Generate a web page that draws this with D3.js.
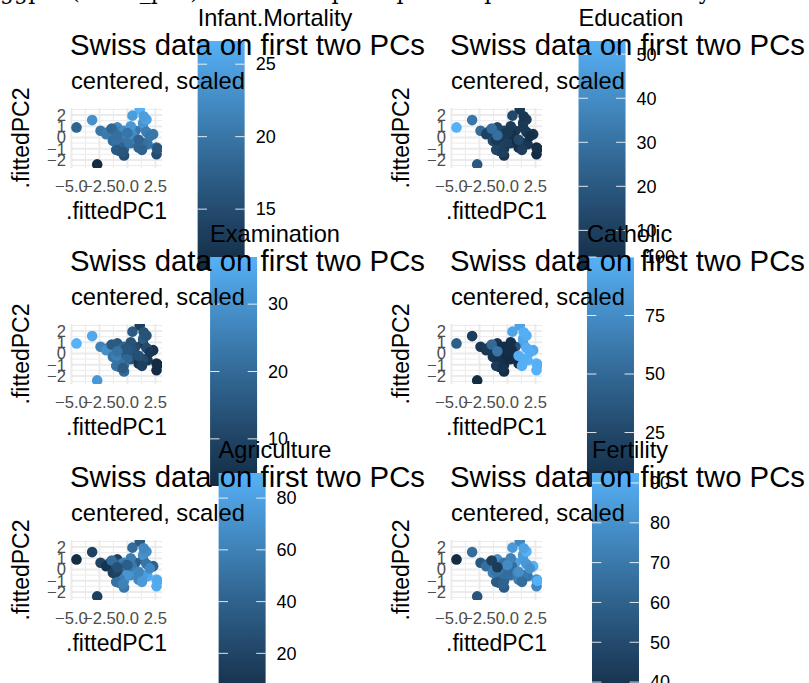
<!DOCTYPE html>
<html lang="en">
<head>
<meta charset="UTF-8">
<title>Swiss data on first two PCs</title>
<script src="https://d3js.org/d3.v7.min.js"></script>
<style>
  body { margin: 0; background: #fff; }
  text { font-family: "Liberation Sans", Arial, Helvetica, sans-serif; }
</style>
</head>
<body>
<div id="chart-area"></div>
<script>
// swiss provinces, their PC scores and the six variables
const provinces = ['Courtelary','Delemont','Franches-Mnt','Moutier','Neuveville','Porrentruy','Broye','Glane',
  'Gruyere','Sarine','Veveyse','Aigle','Aubonne','Avenches','Cossonay','Echallens','Grandson','Lausanne',
  'La Vallee','Lavaux','Morges','Moudon','Nyone','Orbe','Oron','Payerne','Paysd\'enhaut','Rolle','Vevey',
  'Yverdon','Conthey','Entremont','Herens','Martigwy','Monthey','St Maurice','Sierre','Sion','Boudry',
  'La Chauxdfnd','Le Locle','Neuchatel','Val de Ruz','ValdeTravers','V. De Geneve','Rive Droite','Rive Gauche'];

const pc1 = [-0.9, 1.4, 2.3, 0.7, -0.6, 1.1, 1.4, 1.7, 1.7, 0.45, 1.45, -0.7, 0.3, -0.3, -0.3, 0.5, -0.3, -2.4,
  -2.7, 0.0, -0.7, 0.4, -1.0, -0.3, 0.9, 0.3, 1.0, -0.4, -1.7, -0.2, 2.6, 1.8, 2.6, 1.4, 2.0, 1.3, 2.7, 1.0,
  -1.1, -1.9, -1.3, -3.15, 0.0, -1.0, -4.55, -1.4, -0.9];
const pc2 = [0.9, 0.9, 0.3, 0.6, 0.5, 2.5, 1.3, 1.6, 0.5, 1.95, 1.9, -1.2, -0.5, 0.6, -1.0, -0.1, 0.0, 0.6,
  -2.4, -0.4, -0.8, 0.3, -1.1, -1.6, -0.3, 1.0, -0.9, -1.3, 0.5, 0.4, -1.5, -0.6, -0.9, -0.5, 0.1, -1.1, -1.0, -0.2,
  0.1, 0.3, -0.3, 1.55, 0.4, -0.2, 0.9, 0.8, 0.2];

const fertility = [80.2, 83.1, 92.5, 85.8, 76.9, 76.1, 83.8, 92.4, 82.4, 82.9, 87.1, 64.1, 66.9, 68.9, 61.7, 68.3,
  71.7, 55.7, 54.3, 65.1, 65.5, 65.0, 56.6, 57.4, 72.5, 74.2, 72.0, 60.5, 58.3, 65.4, 75.5, 69.3, 77.3, 70.5, 79.4,
  65.0, 92.2, 79.3, 70.4, 65.7, 72.7, 64.4, 77.6, 67.6, 35.0, 44.7, 42.8];
const agriculture = [17.0, 45.1, 39.7, 36.5, 43.5, 35.3, 70.2, 67.8, 53.3, 45.2, 64.5, 62.0, 67.5, 60.7, 69.3, 72.6,
  34.0, 19.4, 15.2, 73.0, 59.8, 55.1, 50.9, 54.1, 71.2, 58.1, 63.5, 60.8, 26.8, 49.5, 85.9, 84.9, 89.7, 78.2, 64.9,
  75.9, 84.6, 63.1, 38.4, 7.7, 16.7, 17.6, 37.6, 18.7, 1.2, 46.6, 27.7];
const examination = [15, 6, 5, 12, 17, 9, 16, 14, 12, 16, 14, 21, 14, 19, 22, 18, 17, 26, 31, 19, 22, 14, 22, 20, 12,
  14, 6, 16, 25, 15, 3, 7, 5, 12, 7, 9, 3, 13, 26, 29, 22, 35, 15, 25, 37, 16, 22];
const education = [12, 9, 5, 7, 15, 7, 7, 8, 7, 13, 6, 12, 7, 12, 5, 2, 8, 28, 20, 9, 10, 3, 12, 6, 1, 8, 3, 10, 19, 8,
  2, 6, 2, 6, 3, 9, 3, 13, 12, 11, 13, 32, 7, 7, 53, 29, 29];
const catholic = [9.96, 84.84, 93.40, 33.77, 5.16, 90.57, 92.85, 97.16, 97.67, 91.38, 98.61, 8.52, 2.27, 4.43, 2.82,
  24.20, 3.30, 12.11, 2.15, 2.84, 5.23, 4.52, 15.14, 4.20, 2.40, 5.23, 2.56, 7.72, 18.46, 6.10, 99.71, 99.68, 100.00,
  98.96, 98.22, 99.06, 99.46, 96.83, 5.62, 13.79, 11.22, 16.92, 4.97, 8.65, 42.34, 50.43, 58.33];
const infantMortality = [22.2, 22.2, 20.2, 20.3, 20.6, 26.6, 23.6, 24.9, 21.0, 24.4, 24.5, 16.5, 19.1, 22.7, 18.7, 21.2,
  20.0, 20.2, 10.8, 20.0, 18.0, 22.4, 16.7, 15.3, 21.0, 23.8, 18.0, 16.3, 20.9, 22.5, 15.1, 19.8, 18.3, 19.4, 20.2,
  17.8, 16.3, 18.1, 20.3, 20.5, 18.9, 23.0, 20.0, 19.5, 18.0, 18.2, 19.3];

// one panel per variable, in the order they were laid out
const panelVars = ['Infant.Mortality', 'Education', 'Examination', 'Catholic', 'Agriculture', 'Fertility'];
const panelValues = [infantMortality, education, examination, catholic, agriculture, fertility];
const legendTicks = [[15, 20, 25], [10, 20, 30, 40, 50], [10, 20, 30], [25, 50, 75, 100], [20, 40, 60, 80],
  [40, 50, 60, 70, 80, 90]];

const xBreaks = [-5, -2.5, 0, 2.5];
const xMinor = [-3.75, -1.25, 1.25];
const yBreaks = [-2, -1, 0, 1, 2];
const yMinor = [-2.5, -1.5, -0.5, 0.5, 1.5, 2.5];

const titleText = 'Swiss data on first two PCs';
const subtitleText = 'centered, scaled';

const W = 809, H = 683;
const colW = 380, rowH = 216;
const panelW = 91, panelH = 60;
const barW = 47, barH = 229;
const low = '#132B43', high = '#56B1F7';

const svg = d3.select('#chart-area')
    .append('svg')
    .attr('width', W)
    .attr('height', H);

const defs = svg.append('defs');

// text that shows through along the top edge
svg.append('text')
    .attr('x', 0)
    .attr('y', -1)
    .style('font-family', '"DejaVu Serif", "Liberation Serif", serif')
    .style('font-size', '22px')
    .attr('fill', '#000')
    .text('ggplot(swiss_pca) + first two principal components coloured by each variable of the swiss data');

const x = d3.scaleLinear().domain([-5.04, 3.09]).range([0, panelW]);
const y = d3.scaleLinear().domain([-2.72, 2.63]).range([panelH, 0]);

panelVars.forEach((name, i) => {
    const col = i % 2, row = Math.floor(i / 2);
    const ox = col * colW, oy = row * rowH;
    const values = panelValues[i];
    const ext = d3.extent(values);
    const color = d3.scaleLinear().domain(ext).range([low, high]).interpolate(d3.interpolateLab);

    const g = svg.append('g');

    // ---- legend (colourbar) ----
    const leg = g.append('g');
    const lt = leg.append('text')
        .attr('y', oy + 26)
        .style('font-size', '23.6px')
        .text(name);
    const labs = leg.append('g');
    const barY = d3.scaleLinear().domain(ext).range([oy + 41 + barH, oy + 41]);
    legendTicks[i].forEach(t => {
        labs.append('text')
            .attr('y', barY(t))
            .attr('dy', '0.35em')
            .style('font-size', '18px')
            .text(t);
    });
    const labW = d3.max(labs.selectAll('text').nodes(), n => n.getComputedTextLength());
    const titleW = lt.node().getComputedTextLength();
    const legW = Math.max(titleW, barW + 11 + labW);
    const legX = 275 + col * 356 - legW / 2;

    const gid = 'grad' + i;
    const grad = defs.append('linearGradient')
        .attr('id', gid)
        .attr('x1', 0).attr('y1', 1).attr('x2', 0).attr('y2', 0);
    d3.range(0, 1.0001, 0.1).forEach(f => {
        grad.append('stop')
            .attr('offset', f)
            .attr('stop-color', color(ext[0] + f * (ext[1] - ext[0])));
    });
    leg.insert('rect', 'text')
        .attr('x', legX)
        .attr('y', oy + 41)
        .attr('width', barW)
        .attr('height', barH)
        .attr('fill', `url(#${gid})`);
    lt.attr('x', legX);
    labs.selectAll('text').attr('x', legX + barW + 11);
    const tickLen = barW / 5;
    legendTicks[i].forEach(t => {
        [[legX, legX + tickLen], [legX + barW - tickLen, legX + barW]].forEach(([a, b]) => {
            leg.insert('line', 'g')
                .attr('x1', a).attr('x2', b)
                .attr('y1', barY(t)).attr('y2', barY(t))
                .attr('stroke', '#fff')
                .attr('stroke-opacity', 0.85)
                .attr('stroke-width', 1);
        });
    });

    // ---- panel ----
    const px = 71 + ox, py = 108 + oy;
    const p = g.append('g').attr('transform', `translate(${px},${py})`);
    const cid = 'clip' + i;
    defs.append('clipPath').attr('id', cid)
        .append('rect').attr('width', panelW).attr('height', panelH);

    xMinor.forEach(v => p.append('line')
        .attr('x1', x(v)).attr('x2', x(v)).attr('y1', 0).attr('y2', panelH)
        .attr('stroke', '#EBEBEB').attr('stroke-width', 1));
    yMinor.forEach(v => p.append('line')
        .attr('y1', y(v)).attr('y2', y(v)).attr('x1', 0).attr('x2', panelW)
        .attr('stroke', '#EBEBEB').attr('stroke-width', 1));
    xBreaks.forEach(v => p.append('line')
        .attr('x1', x(v)).attr('x2', x(v)).attr('y1', 0).attr('y2', panelH)
        .attr('stroke', '#EBEBEB').attr('stroke-width', 2));
    yBreaks.forEach(v => p.append('line')
        .attr('y1', y(v)).attr('y2', y(v)).attr('x1', 0).attr('x2', panelW)
        .attr('stroke', '#EBEBEB').attr('stroke-width', 2));

    p.append('g')
        .attr('clip-path', `url(#${cid})`)
        .selectAll('circle')
        .data(provinces.map((d, k) => k))
        .enter()
        .append('circle')
        .attr('cx', k => x(pc1[k]))
        .attr('cy', k => y(pc2[k]))
        .attr('r', 5.3)
        .attr('fill', k => color(values[k]));

    // axis labels
    xBreaks.forEach(v => p.append('text')
        .attr('x', x(v)).attr('y', 84)
        .attr('text-anchor', 'middle')
        .attr('fill', '#4D4D4D')
        .style('font-size', '16.6px')
        .text(d3.format('.1f')(v).replace('-', '\u2212')));
    yBreaks.forEach(v => p.append('text')
        .attr('x', -5).attr('y', y(v)).attr('dy', '0.35em')
        .attr('text-anchor', 'end')
        .attr('fill', '#4D4D4D')
        .style('font-size', '16.6px')
        .text(String(v).replace('-', '\u2212')));

    p.append('text')
        .attr('x', panelW / 2).attr('y', 111)
        .attr('text-anchor', 'middle')
        .style('font-size', '23px')
        .text('.fittedPC1');
    p.append('text')
        .attr('transform', `translate(${-42},${panelH / 2}) rotate(-90)`)
        .attr('text-anchor', 'middle')
        .style('font-size', '23px')
        .text('.fittedPC2');

    // titles go on top of the colourbar
    g.append('text')
        .attr('x', px - 1).attr('y', oy + 55)
        .style('font-size', '29.3px')
        .text(titleText);
    g.append('text')
        .attr('x', px).attr('y', oy + 89)
        .style('font-size', '23.7px')
        .text(subtitleText);
});
</script>
</body>
</html>
